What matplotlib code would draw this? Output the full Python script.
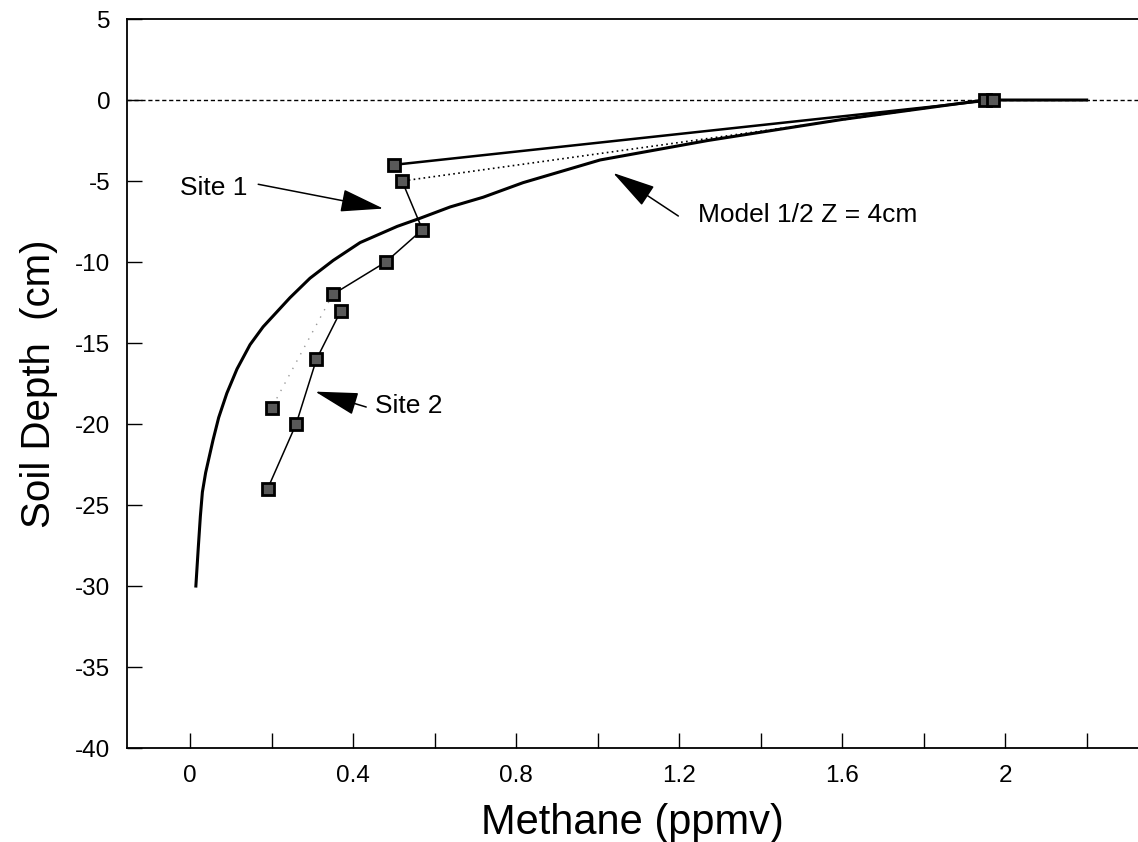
import matplotlib
matplotlib.use("Agg")
import matplotlib.pyplot as plt
from matplotlib.ticker import MultipleLocator

plt.rcParams['font.family'] = ['Liberation Sans', 'DejaVu Sans']
plt.rcParams['axes.unicode_minus'] = False

# Model curve (half depth Z = 4 cm)
model_ppmv = [0.014, 0.02, 0.025, 0.03, 0.038, 0.047, 0.056, 0.07, 0.09, 0.115, 0.147,
              0.179, 0.245, 0.294, 0.351, 0.417, 0.508, 0.564, 0.638, 0.719,
              0.817, 0.925, 1.006, 1.27, 1.6, 1.95, 2.2]
model_depth = [-30, -27.6, -25.7, -24.2, -23.0, -22.0, -21.0, -19.6, -18.1, -16.6, -15.1,
               -14.0, -12.2, -11.0, -9.9, -8.8, -7.8, -7.3, -6.6, -6.0,
               -5.1, -4.3, -3.7, -2.5, -1.2, 0, 0]

# Site 1 profile
site1_ppmv = [1.95, 0.52, 0.57, 0.48, 0.35, 0.20]
site1_depth = [0, -5, -8, -10, -12, -19]

# Site 2 profile
site2_ppmv = [1.97, 0.50, 0.37, 0.31, 0.26, 0.19]
site2_depth = [0, -4, -13, -16, -20, -24]

fig = plt.figure(figsize=(11.38, 8.42), dpi=100)
ax = fig.add_axes([0.1116, 0.1116, 0.8884, 0.8658])

# zero line
ax.axhline(0, color='black', linestyle=(0, (3, 2)), linewidth=1.0, zorder=1)

# model
ax.plot(model_ppmv, model_depth, color='black', linewidth=2.2, zorder=2)

# site 1: dotted from surface, then thin solid, faint dots to the deepest point
ax.plot(site1_ppmv[:2], site1_depth[:2], color='black', linestyle=(0, (1, 2)), linewidth=1.2, zorder=2)
ax.plot(site1_ppmv[1:5], site1_depth[1:5], color='black', linewidth=1.1, zorder=2)
ax.plot(site1_ppmv[4:], site1_depth[4:], color='0.6', linestyle=(0, (1, 5)), linewidth=1.0, zorder=2)

# site 2: solid from surface, then thin solid below 13 cm
ax.plot(site2_ppmv[:2], site2_depth[:2], color='black', linewidth=1.8, zorder=2)
ax.plot(site2_ppmv[2:], site2_depth[2:], color='black', linewidth=1.1, zorder=2)

for xs, ys in [(site1_ppmv, site1_depth), (site2_ppmv, site2_depth)]:
    ax.plot(xs, ys, linestyle='none', marker='s', markersize=9,
            markerfacecolor='0.35', markeredgecolor='black', markeredgewidth=2.0, zorder=3)

# labels
ax.text(0.14, -5.4, 'Site 1', fontsize=19, ha='right', va='center')
ax.text(0.454, -18.9, 'Site 2', fontsize=19, ha='left', va='center')
ax.text(1.247, -7.1, 'Model 1/2 Z = 4cm', fontsize=19, ha='left', va='center')

# arrows (tails start a little away from the text)
arrow = dict(arrowstyle='-|>,head_length=1.7,head_width=0.45', color='black',
             linewidth=1.1, shrinkA=0, shrinkB=0, mutation_scale=16)
ax.annotate('', xy=(0.474, -6.7), xytext=(0.167, -5.2), arrowprops=arrow)
ax.annotate('', xy=(0.307, -18.0), xytext=(0.432, -18.95), arrowprops=arrow)
ax.annotate('', xy=(1.038, -4.5), xytext=(1.198, -7.16), arrowprops=arrow)

ax.set_xlim(-0.155, 2.326)
ax.set_ylim(-40, 5)
ax.xaxis.set_minor_locator(MultipleLocator(0.2))
ax.yaxis.set_major_locator(MultipleLocator(5))
ax.set_xticks([0, 0.4, 0.8, 1.2, 1.6, 2.0])
ax.set_xticklabels(['0', '0.4', '0.8', '1.2', '1.6', '2'])

ax.tick_params(axis='both', which='both', direction='in', length=11, width=1.0,
               labelsize=17.5, top=False, right=False)
ax.tick_params(axis='x', pad=12)
ax.tick_params(axis='y', pad=12)

ax.spines['right'].set_visible(False)
for s in ['top', 'left', 'bottom']:
    ax.spines[s].set_linewidth(1.3)

ax.set_xlabel('Methane (ppmv)', fontsize=30, labelpad=12)
ax.set_ylabel('Soil Depth  (cm)', fontsize=29, labelpad=12)

fig.savefig('out.png', dpi=100)
